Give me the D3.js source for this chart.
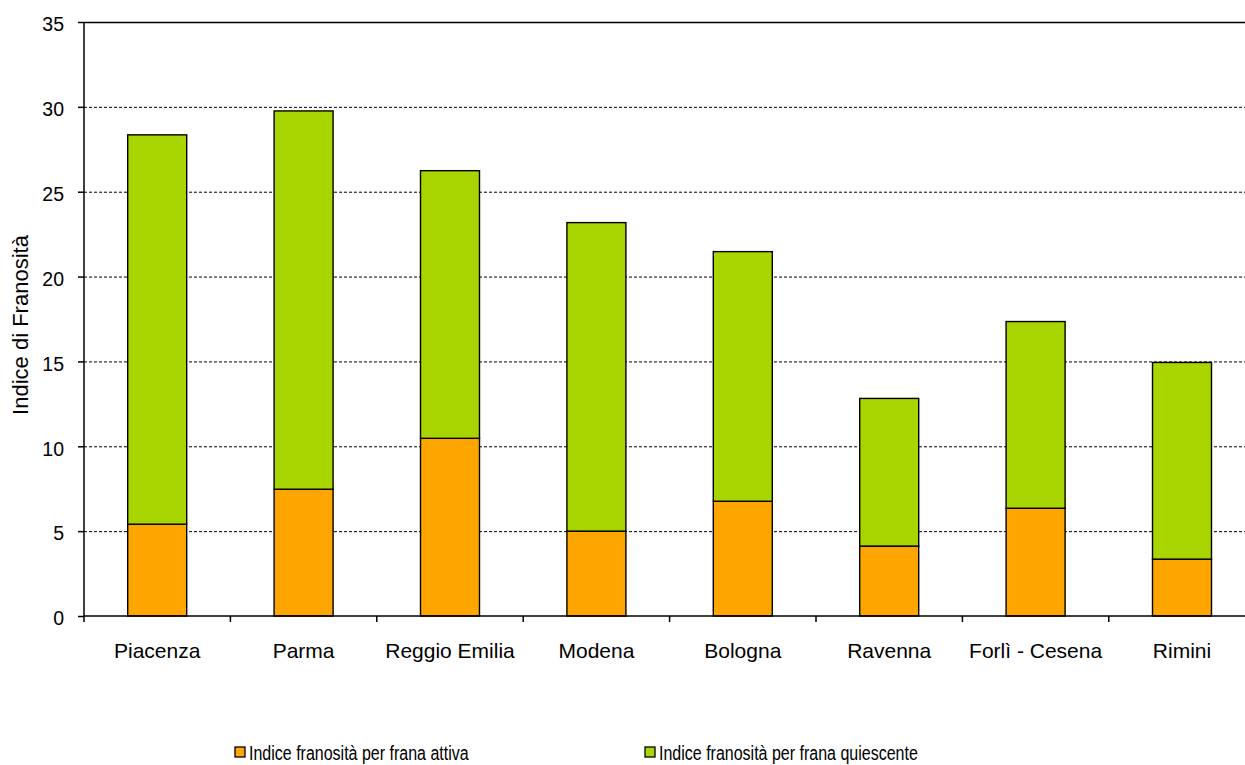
<!DOCTYPE html>
<html><head><meta charset="utf-8">
<script src="https://cdn.jsdelivr.net/npm/d3@7"></script>
<style>body{margin:0;background:#fff}svg{display:block}text{font-family:"Liberation Sans",Arial,sans-serif;fill:#000}</style>
</head><body><svg id="c" width="1245" height="765"></svg>
<script>
const categories = ["Piacenza","Parma","Reggio Emilia","Modena","Bologna","Ravenna","Forlì - Cesena","Rimini"];
const attiva = [5.41, 7.47, 10.47, 5.0, 6.76, 4.12, 6.35, 3.35];
const quiescente = [22.94, 22.29, 15.77, 18.18, 14.71, 8.70, 11.0, 11.59];
const seriesNames = ["Indice franosità per frana attiva","Indice franosità per frana quiescente"];
const colors = ["#FFA500","#A8D400"];
const yTicks = [0,5,10,15,20,25,30,35];

const svg = d3.select("#c");
const mLeft = 84, mTop = 22, mBottom = 616, step = 146.4;
const mRight = mLeft + step*categories.length;
const x = d3.scaleBand().domain(categories).range([mLeft, mRight]).paddingInner(0.597).paddingOuter(0.2985);
const y = d3.scaleLinear().domain([0,35]).range([mBottom, mTop]);

// gridlines
svg.append("g").selectAll("line").data(yTicks.filter(v=>v>0&&v<35)).join("line")
  .attr("x1",mLeft).attr("x2",1245).attr("y1",d=>y(d)+0.5).attr("y2",d=>y(d)+0.5)
  .attr("stroke","#000").attr("stroke-width",1).attr("stroke-dasharray","3,2");
svg.append("line").attr("x1",mLeft).attr("x2",1245).attr("y1",y(35)+0.5).attr("y2",y(35)+0.5).attr("stroke","#000").attr("stroke-width",1.5);

// bars
const data = categories.map((c,i)=>({c, a:attiva[i], q:quiescente[i]}));
const stack = d3.stack().keys(["a","q"])(data);
svg.append("g").selectAll("g").data(stack).join("g").attr("fill",(d,i)=>colors[i])
  .selectAll("rect").data(d=>d).join("rect")
  .attr("x",d=>x(d.data.c)).attr("width",x.bandwidth())
  .attr("y",d=>y(d[1])).attr("height",d=>y(d[0])-y(d[1]))
  .attr("stroke","#000").attr("stroke-width",1.4);

// y axis
const ya = svg.append("g").attr("transform",`translate(${mLeft},0)`)
  .call(d3.axisLeft(y).tickValues(yTicks).tickSize(6).tickPadding(14).tickFormat(d3.format("d")));
ya.select(".domain").attr("stroke","#000").attr("stroke-width",1.5).attr("d",`M0,${mTop}V${mBottom}`);
ya.selectAll(".tick line").attr("stroke","#000").attr("stroke-width",1.5);
ya.selectAll(".tick text").style("font-size","19.5px").attr("dy","0.45em")
  .attr("font-family","Liberation Sans, Arial, sans-serif");

// x axis
const xa = svg.append("g").attr("transform",`translate(0,${mBottom})`);
xa.append("line").attr("x1",mLeft).attr("x2",1245).attr("y1",0).attr("y2",0).attr("stroke","#000").attr("stroke-width",1.5);
const bounds = d3.range(categories.length).map(i=>mLeft+i*step);
xa.selectAll(".tk").data(bounds).join("line").attr("class","tk")
  .attr("x1",d=>d).attr("x2",d=>d).attr("y1",0).attr("y2",6).attr("stroke","#000").attr("stroke-width",1.5);
xa.selectAll(".lbl").data(categories).join("text").attr("class","lbl")
  .attr("x",d=>x(d)+x.bandwidth()/2).attr("y",42).attr("text-anchor","middle")
  .style("font-size","21px").text(d=>d);

// y title
svg.append("text").attr("transform","translate(28,325) rotate(-90)").attr("text-anchor","middle")
  .style("font-size","22px").text("Indice di Franosità");

// legend
const legX = [235, 645];
const lg = svg.append("g").selectAll("g").data(seriesNames).join("g")
  .attr("transform",(d,i)=>`translate(${legX[i]},0)`);
lg.append("rect").attr("x",0).attr("y",747).attr("width",10).attr("height",10)
  .attr("fill",(d,i)=>colors[i]).attr("stroke","#000").attr("stroke-width",1.3);
lg.append("text").attr("transform","translate(14,760) scale(0.8,1)").style("font-size","20px").text(d=>d);
</script></body></html>
